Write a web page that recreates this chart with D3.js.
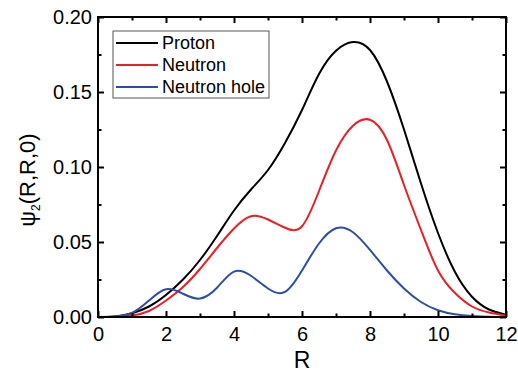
<!DOCTYPE html>
<html>
<head>
<meta charset="utf-8">
<script src="https://cdn.jsdelivr.net/npm/d3@7"></script>
<style>
  body { margin: 0; background: #fff; }
  svg text { font-family: "Liberation Sans", Arial, sans-serif; fill: #000; }
</style>
</head>
<body>
<div id="chart"></div>
<script>
// R grid shared by all curves
const rValues = [0, 0.5, 1, 1.5, 2, 2.5, 3, 3.5, 4, 4.5, 5, 5.5, 6, 6.5, 7, 7.5, 8, 8.5, 9, 9.5, 10, 10.5, 11, 11.5, 12];

const proton = [0, 0.0004, 0.0025, 0.007, 0.0147, 0.025, 0.038, 0.054, 0.071, 0.085, 0.098, 0.116, 0.138, 0.162, 0.1775, 0.1833, 0.178, 0.157, 0.125, 0.089, 0.056, 0.030, 0.0135, 0.005, 0.0015];
const neutron = [0, 0.0002, 0.001, 0.004, 0.011, 0.020, 0.032, 0.046, 0.059, 0.0672, 0.065, 0.0595, 0.0605, 0.084, 0.111, 0.1275, 0.1315, 0.118, 0.088, 0.058, 0.031, 0.016, 0.007, 0.003, 0.001];
const neutronHole = [0, 0.0003, 0.0027, 0.011, 0.0185, 0.0155, 0.0123, 0.0195, 0.0303, 0.0275, 0.019, 0.0167, 0.031, 0.049, 0.0592, 0.0565, 0.0447, 0.031, 0.019, 0.010, 0.0045, 0.0018, 0.0007, 0.0002, 0];

const seriesNames = ["Proton", "Neutron", "Neutron hole"];
const seriesColors = ["#000000", "#ee1d24", "#2f4ea1"];

const xMajor = [0, 2, 4, 6, 8, 10, 12];
const xMinor = [1, 3, 5, 7, 9, 11];
const yMajor = [0, 0.05, 0.10, 0.15, 0.20];
const yMinor = [0.025, 0.075, 0.125, 0.175];

const W = 518, H = 373;
const margin = {top: 17, right: 12, bottom: 56, left: 98};
const width = W - margin.left - margin.right,
      height = H - margin.top - margin.bottom;

const svg = d3.select("#chart").append("svg")
    .attr("width", W).attr("height", H)
  .append("g")
    .attr("transform", `translate(${margin.left},${margin.top})`);

svg.append("clipPath").attr("id", "plot-clip")
  .append("rect").attr("width", width).attr("height", height);

const x = d3.scaleLinear().domain([0, 12]).range([0, width]);
const y = d3.scaleLinear().domain([0, 0.20]).range([height, 0]);

// curves
const series = [proton, neutron, neutronHole];
const line = d3.line()
    .x((d, i) => x(rValues[i]))
    .y(d => y(d))
    .curve(d3.curveNatural);

svg.append("g").attr("clip-path", "url(#plot-clip)")
  .selectAll("path")
  .data(series)
  .join("path")
    .attr("fill", "none")
    .attr("stroke", (d, i) => seriesColors[i])
    .attr("stroke-width", 2)
    .attr("d", line);

// axes, ticks pointing inward on all sides
function styleAxis(g) {
  g.select(".domain").remove();
  g.selectAll(".tick line").attr("stroke", "#000").attr("stroke-width", 2);
  g.selectAll(".tick text").attr("font-size", 20).attr("fill", "#000");
}

svg.append("g").attr("transform", `translate(0,${height})`)
  .call(d3.axisBottom(x).tickValues(xMajor).tickSize(-6).tickPadding(10).tickFormat(d3.format("d")))
  .call(styleAxis);
svg.append("g").attr("transform", `translate(0,${height})`)
  .call(d3.axisBottom(x).tickValues(xMinor).tickSize(-3.5).tickFormat(""))
  .call(styleAxis);
svg.append("g")
  .call(d3.axisTop(x).tickValues(xMajor).tickSize(-6).tickFormat(""))
  .call(styleAxis);
svg.append("g")
  .call(d3.axisTop(x).tickValues(xMinor).tickSize(-3.5).tickFormat(""))
  .call(styleAxis);

svg.append("g")
  .call(d3.axisLeft(y).tickValues(yMajor).tickSize(-6).tickPadding(6).tickFormat(d3.format(".2f")))
  .call(styleAxis);
svg.append("g")
  .call(d3.axisLeft(y).tickValues(yMinor).tickSize(-3.5).tickFormat(""))
  .call(styleAxis);
svg.append("g").attr("transform", `translate(${width},0)`)
  .call(d3.axisRight(y).tickValues(yMajor).tickSize(-6).tickFormat(""))
  .call(styleAxis);
svg.append("g").attr("transform", `translate(${width},0)`)
  .call(d3.axisRight(y).tickValues(yMinor).tickSize(-3.5).tickFormat(""))
  .call(styleAxis);

// frame
svg.append("rect")
    .attr("x", 0).attr("y", 0)
    .attr("width", width).attr("height", height)
    .attr("fill", "none")
    .attr("stroke", "#000")
    .attr("stroke-width", 2);

// axis titles
svg.append("text")
    .attr("x", width / 2)
    .attr("y", height + 51)
    .attr("text-anchor", "middle")
    .attr("font-size", 23)
    .text("R");

const yTitle = svg.append("text")
    .attr("transform", `translate(${-63},${163}) rotate(-90)`)
    .attr("text-anchor", "middle")
    .attr("font-size", 22);
yTitle.append("tspan").text("ψ");
yTitle.append("tspan").attr("font-size", 12).attr("dy", 5).text("2");
yTitle.append("tspan").attr("dy", -5).text("(R,R,0)");

// legend
const legend = svg.append("g").attr("transform", "translate(15,14)");
legend.append("rect")
    .attr("x", 0).attr("y", 0)
    .attr("width", 156).attr("height", 67)
    .attr("fill", "#fff")
    .attr("stroke", "#555")
    .attr("stroke-width", 1);
seriesNames.forEach((name, i) => {
  const yy = 12 + i * 22;
  legend.append("line")
      .attr("x1", 3).attr("x2", 45)
      .attr("y1", yy).attr("y2", yy)
      .attr("stroke", seriesColors[i])
      .attr("stroke-width", 2);
  legend.append("text")
      .attr("x", 49).attr("y", yy)
      .attr("dy", "0.35em")
      .attr("font-size", 18)
      .text(name);
});
</script>
</body>
</html>
